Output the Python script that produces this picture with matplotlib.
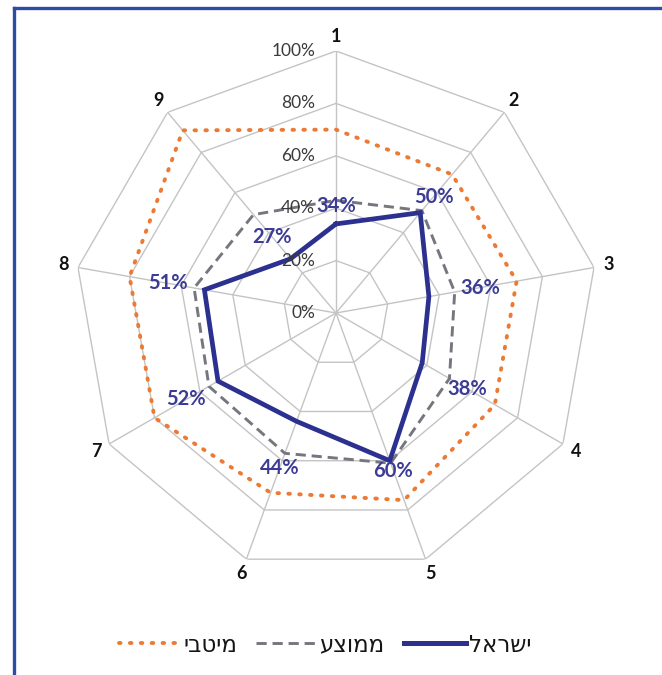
import numpy as np
import matplotlib
matplotlib.use("Agg")
import matplotlib.pyplot as plt
from matplotlib.lines import Line2D

# ---- data ----
axes_labels = ["1", "2", "3", "4", "5", "6", "7", "8", "9"]
israel = [34, 50, 36, 38, 60, 44, 52, 51, 27]
average = [43, 51, 46, 50, 61, 57, 56, 55, 49]
optimal = [70, 69, 70, 70, 76, 73, 80, 80, 91]
ring_values = [0, 20, 40, 60, 80, 100]
legend_names = ["ישראל", "ממוצע", "מיטבי"]
# radial position of the value labels (fraction of full scale)
label_radius = [0.41, 0.58, 0.56, 0.58, 0.64, 0.63, 0.66, 0.65, 0.38]


def rtl(s):
    return s[::-1]


plt.rcParams['font.family'] = ['Lato', 'DejaVu Sans']

W, H = 662, 675
fig = plt.figure(figsize=(W / 100, H / 100), dpi=100)
fig.patch.set_facecolor('white')

cx, cy, R = 336, 313, 262
ax = fig.add_axes([(cx - R) / W, (H - cy - R) / H, 2 * R / W, 2 * R / H],
                  projection='polar')
ax.set_theta_zero_location('N')
ax.set_theta_direction(-1)
ax.set_ylim(0, 1.0)
ax.set_xticks([])
ax.set_yticks([])
ax.grid(False)
ax.spines['polar'].set_visible(False)
ax.patch.set_alpha(0)

n = len(axes_labels)
theta = np.arange(n) * 2 * np.pi / n
theta_c = np.append(theta, theta[0])

grid_col = '#c4c4c4'
for rv in ring_values[1:]:
    ax.plot(theta_c, np.full(n + 1, rv / 100), color=grid_col, lw=1.0, zorder=1)
for t in theta:
    ax.plot([t, t], [0, 1.0], color=grid_col, lw=1.0, zorder=1)

def closed(v):
    v = np.asarray(v, float) / 100
    return np.append(v, v[0])

orange, gray, navy = '#ec7a35', '#76767f', '#2c3190'
dot_ls, dash_ls = (0, (0.4, 2.4)), (0, (3.5, 2.0))

ax.plot(theta_c, closed(optimal), color=orange, lw=2.8,
        linestyle=dot_ls, dash_capstyle='round', zorder=3)
ax.plot(theta_c, closed(average), color=gray, lw=2.1,
        linestyle=dash_ls, zorder=4)
ax.plot(theta_c, closed(israel), color=navy, lw=3.4,
        solid_joinstyle='miter', zorder=5)

# ring labels on axis 1
for rv in ring_values:
    ax.annotate(f"{rv}%", xy=(0, rv / 100), xytext=(-15, 0),
                textcoords='offset points', ha='right', va='center',
                fontsize=12.5, color='#3a3a3a', zorder=6,
                annotation_clip=False)

# axis category labels
for t, lab in zip(theta, axes_labels):
    ax.text(t, 1.057, lab, ha='center', va='center', fontsize=13,
            fontweight='bold', color='#111111', clip_on=False)

# value labels (Israel)
for t, v, lr in zip(theta, israel, label_radius):
    ax.text(t, lr, f"{v}%", ha='center', va='center', fontsize=14.5,
            fontweight='bold', color='#3c3c96', zorder=7, clip_on=False)

# legend (order left to right as in the reference)
handles = [
    Line2D([], [], color=orange, lw=2.8, linestyle=dot_ls,
           dash_capstyle='round'),
    Line2D([], [], color=gray, lw=2.1, linestyle=dash_ls),
    Line2D([], [], color=navy, lw=3.6),
]
labels = [rtl(legend_names[2]), rtl(legend_names[1]), rtl(legend_names[0])]
leg = fig.legend(handles, labels, loc='center', ncol=3,
                 bbox_to_anchor=(325 / W, 1 - 645 / H), frameon=False,
                 prop={'family': ['DejaVu Sans'], 'size': 16.5},
                 handlelength=2.7, handletextpad=0.12, columnspacing=0.8)
for txt in leg.get_texts():
    txt.set_color('#151515')

# blue frame (top and left edges)
frame_col = '#2d4ca6'
fig.add_artist(Line2D([14 / W, 1.0], [1 - 7.5 / H, 1 - 7.5 / H],
                      transform=fig.transFigure, color=frame_col, lw=2.4))
fig.add_artist(Line2D([14 / W, 14 / W], [0, 1 - 7.5 / H],
                      transform=fig.transFigure, color=frame_col, lw=2.4))

fig.savefig('out.png', dpi=100, facecolor='white')
